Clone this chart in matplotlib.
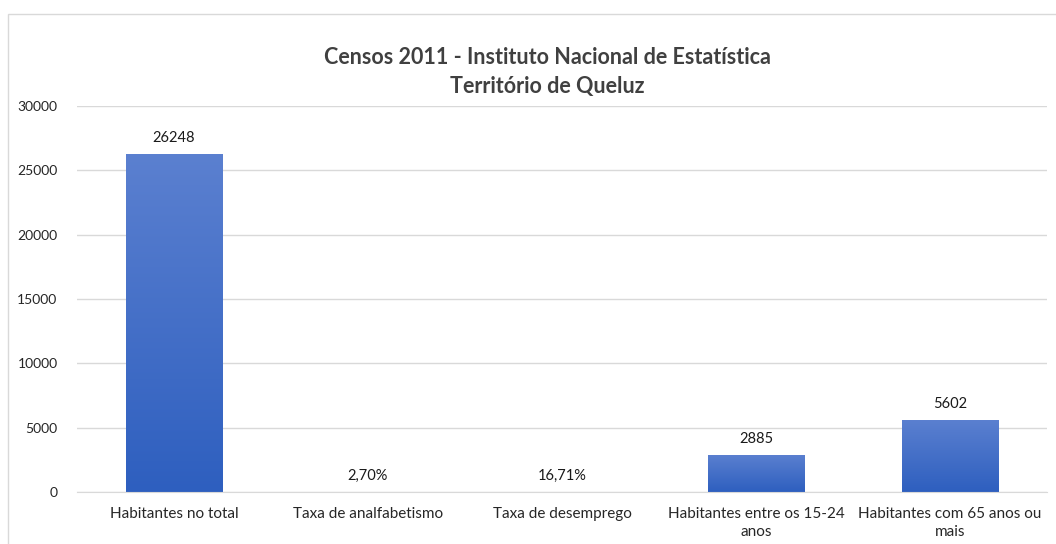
import matplotlib
matplotlib.use("Agg")
import matplotlib.pyplot as plt
import numpy as np
from matplotlib.patches import Rectangle
from matplotlib.colors import LinearSegmentedColormap

categories = ["Habitantes no total", "Taxa de analfabetismo", "Taxa de desemprego",
              "Habitantes entre os 15-24\nanos", "Habitantes com 65 anos ou\nmais"]
values = [26248, 2.70, 16.71, 2885, 5602]
labels = ["26248", "2,70%", "16,71%", "2885", "5602"]
yticks = [0, 5000, 10000, 15000, 20000, 25000, 30000]
title = "Censos 2011 - Instituto Nacional de Estatística\nTerritório de Queluz"

plt.rcParams['font.family'] = ['Lato', 'DejaVu Sans']

fig = plt.figure(figsize=(10.56, 5.44), dpi=100)
ax = fig.add_axes([77/1056, 52/544, (1047-77)/1056, (492-106)/544])

x = np.arange(len(categories))
bars = ax.bar(x, values, width=0.5, color="none", edgecolor="none", zorder=2)
cmap = LinearSegmentedColormap.from_list("g", ["#2e5fbf", "#5b80d0"])
grad = np.linspace(0, 1, 256).reshape(-1, 1)
for b in bars:
    x0, y0, w, h = b.get_x(), b.get_y(), b.get_width(), b.get_height()
    if h <= 0:
        continue
    im = ax.imshow(grad, extent=(x0, x0 + w, y0, y0 + h), origin="lower",
                   cmap=cmap, aspect="auto", zorder=2)
    im.set_clip_path(b)

for xi, v, lab in zip(x, values, labels):
    ax.text(xi, v + 700, lab, ha="center", va="bottom", fontsize=10.5, color="#1a1a1a")

ax.set_xlim(-0.5, len(categories) - 0.5)
ax.set_ylim(0, 30000)
ax.set_yticks(yticks)
ax.set_yticklabels([str(t) for t in yticks], fontsize=10, color="#262626")
ax.set_xticks(x)
ax.set_xticklabels(categories, fontsize=11, color="#262626", linespacing=1.35)
ax.tick_params(axis="x", length=0, pad=11)
ax.tick_params(axis="y", length=0, pad=14)
ax.grid(axis="y", color="#d9d9d9", linewidth=1, zorder=0)
ax.set_axisbelow(True)
for s in ["top", "right", "left"]:
    ax.spines[s].set_visible(False)
ax.spines["bottom"].set_color("#d9d9d9")

fig.text(547/1056, 1 - 72/544, title, ha="center", va="center", fontsize=15.5,
         fontweight="bold", color="#404040", linespacing=1.45)

frame = Rectangle((8/1056, -0.1), 1.2, 1 - 14/544 + 0.1, transform=fig.transFigure,
                  facecolor="none", edgecolor="#d9d9d9", linewidth=1)
fig.patches.append(frame)

fig.savefig("out.png", dpi=100)
